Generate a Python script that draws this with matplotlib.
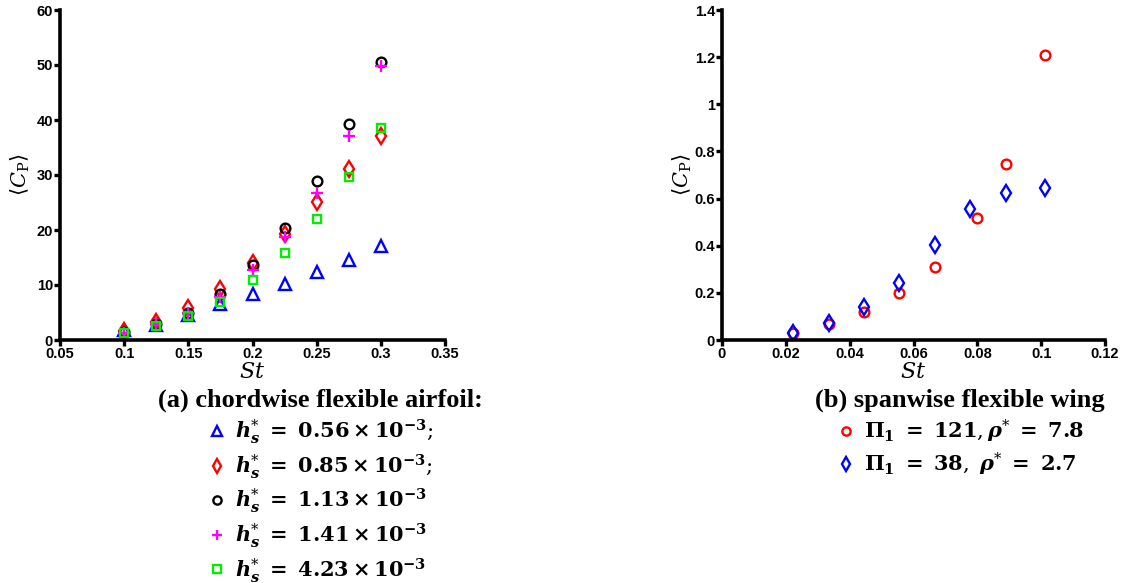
import matplotlib
matplotlib.use("Agg")
import matplotlib.pyplot as plt
import numpy as np

plt.rcParams["font.family"] = ["Liberation Sans", "DejaVu Sans"]
plt.rcParams["mathtext.fontset"] = "dejavuserif"

# (a) chordwise flexible airfoil
st_a = [0.1, 0.125, 0.15, 0.175, 0.2, 0.225, 0.25, 0.275, 0.3]
cp_056 = [1.8, 2.8, 4.6, 6.5, 8.3, 10.2, 12.3, 14.6, 17.1]
cp_085 = [1.6, 3.3, 5.8, 9.2, 14.0, 19.2, 25.1, 31.1, 37.1]
cp_113 = [1.5, 3.0, 5.0, 8.4, 13.6, 20.4, 29.0, 39.2, 50.6]
cp_141 = [1.3, 2.9, 5.0, 7.8, 12.8, 18.8, 26.8, 37.1, 49.9]
cp_423 = [1.2, 2.6, 4.3, 7.0, 10.9, 15.9, 22.0, 29.6, 38.6]

# (b) spanwise flexible wing
st_b1 = [0.0222, 0.0334, 0.0446, 0.0555, 0.0667, 0.0800, 0.0889, 0.1012]
cp_b1 = [0.031, 0.068, 0.117, 0.198, 0.308, 0.519, 0.745, 1.211]
st_b2 = [0.0222, 0.0334, 0.0446, 0.0555, 0.0667, 0.0777, 0.0889, 0.1012]
cp_b2 = [0.031, 0.071, 0.138, 0.243, 0.405, 0.555, 0.625, 0.646]

labels_a = [
    r"$\mathbfit{h}_{\mathbfit{s}}^{*}\ \mathbf{=\ 0.56\times10^{-3}};$",
    r"$\mathbfit{h}_{\mathbfit{s}}^{*}\ \mathbf{=\ 0.85\times10^{-3}};$",
    r"$\mathbfit{h}_{\mathbfit{s}}^{*}\ \mathbf{=\ 1.13\times10^{-3}}$",
    r"$\mathbfit{h}_{\mathbfit{s}}^{*}\ \mathbf{=\ 1.41\times10^{-3}}$",
    r"$\mathbfit{h}_{\mathbfit{s}}^{*}\ \mathbf{=\ 4.23\times10^{-3}}$",
]
labels_b = [
    r"$\mathbf{\Pi_1\ =\ 121},\mathbfit{\rho}^{*}\ \mathbf{=\ 7.8}$",
    r"$\mathbf{\Pi_1\ =\ 38},\ \mathbfit{\rho}^{*}\ \mathbf{=\ 2.7}$",
]

W, H = 1121, 583
fig = plt.figure(figsize=(W / 100, H / 100), dpi=100)
ax1 = fig.add_axes([60 / W, 1 - 340 / H, 385 / W, 330 / H])
ax2 = fig.add_axes([722 / W, 1 - 340 / H, 383 / W, 330 / H])


def style(ax):
    for s in ["top", "right"]:
        ax.spines[s].set_visible(False)
    for s in ["left", "bottom"]:
        ax.spines[s].set_linewidth(2.6)
    ax.tick_params(direction="out", length=4, width=2.4, labelsize=10.5, pad=1)
    for t in ax.get_xticklabels() + ax.get_yticklabels():
        t.set_fontweight("bold")
    ax.set_ylabel(r"$\langle C_\mathrm{P}\rangle$", fontsize=15,
                  fontfamily="DejaVu Sans")
    ax.yaxis.set_label_coords(-28 / 385, 0.5)
    ax.set_xlabel(r"$St$", fontsize=16, va="center")
    ax.xaxis.set_label_coords(0.5, -33 / 330)


kw = dict(linestyle="none", markerfacecolor="none", markeredgewidth=1.7)
ax1.plot(st_a, cp_056, marker="^", ms=8, color="#0000ff", label=labels_a[0], **kw)
ax1.plot(st_a, cp_085, marker="d", ms=8, color="#ff0000", label=labels_a[1], **kw)
ax1.plot(st_a, cp_113, marker="o", ms=7, color="black", label=labels_a[2], **kw)
ax1.plot(st_a, cp_141, marker="+", ms=9, color="#ff00ff", label=labels_a[3], **kw)
ax1.plot(st_a, cp_423, marker="s", ms=6, color="#00ee00", label=labels_a[4], **kw)
ax1.set_xlim(0.05, 0.35)
ax1.set_ylim(0, 60)
ax1.set_xticks(np.arange(0.05, 0.351, 0.05))
ax1.set_xticklabels(["0.05", "0.1", "0.15", "0.2", "0.25", "0.3", "0.35"])
ax1.set_yticks(np.arange(0, 61, 10))
style(ax1)

ax2.plot(st_b1, cp_b1, marker="o", ms=7, color="#ff0000", label=labels_b[0], **kw)
ax2.plot(st_b2, cp_b2, marker="d", ms=8, color="#0000ff", label=labels_b[1], **kw)
ax2.set_xlim(0, 0.12)
ax2.set_ylim(0, 1.4)
ax2.set_xticks(np.arange(0, 0.121, 0.02))
ax2.set_xticklabels(["0", "0.02", "0.04", "0.06", "0.08", "0.1", "0.12"])
ax2.set_yticks(np.arange(0, 1.41, 0.2))
ax2.set_yticklabels(["0", "0.2", "0.4", "0.6", "0.8", "1", "1.2", "1.4"])
style(ax2)

legkw = dict(loc="upper center", bbox_transform=fig.transFigure, frameon=False,
             prop={"size": 15}, handlelength=1.0, handletextpad=0.4,
             labelspacing=0.28, borderpad=0, markerscale=0.85)
leg1 = ax1.legend(bbox_to_anchor=(320 / W, 1 - 378 / H),
                  title="(a) chordwise flexible airfoil:", **legkw)
leg2 = ax2.legend(bbox_to_anchor=(960 / W, 1 - 378 / H),
                  title="(b) spanwise flexible wing", **legkw)
for leg in (leg1, leg2):
    leg.get_title().set_fontfamily("Liberation Serif")
    leg.get_title().set_fontweight("bold")
    leg.get_title().set_fontsize(19)

fig.savefig("out.png", dpi=100)
